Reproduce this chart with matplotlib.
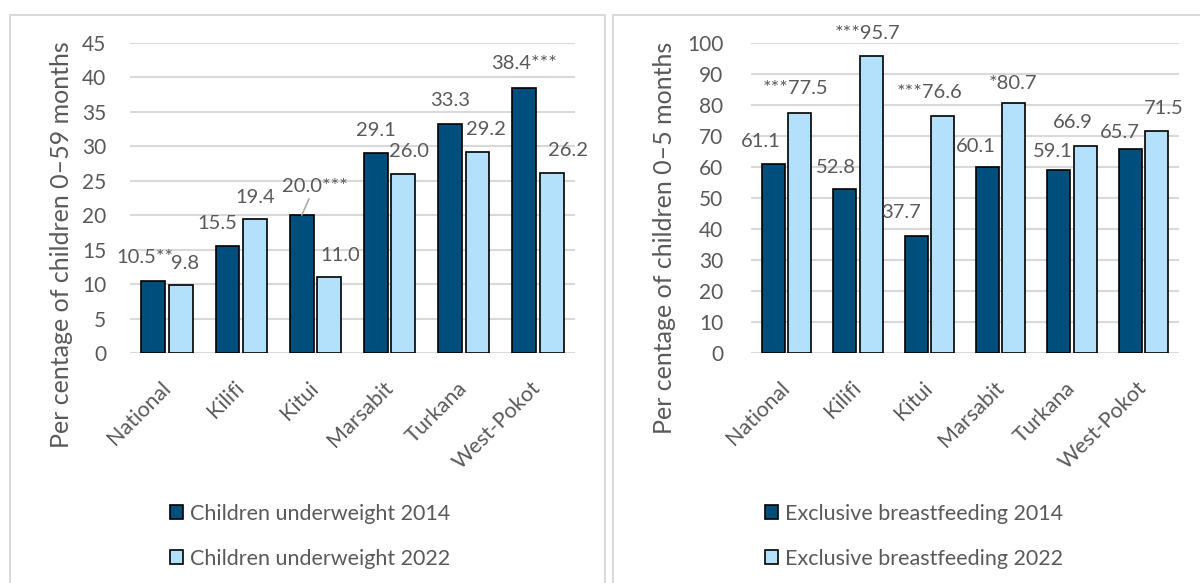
import matplotlib
matplotlib.use("Agg")
import matplotlib.pyplot as plt
from matplotlib.patches import Patch, Rectangle
import numpy as np

# ---- data -------------------------------------------------------------
regions = ["National", "Kilifi", "Kitui", "Marsabit", "Turkana", "West-Pokot"]

underweight_2014 = [10.5, 15.5, 20.0, 29.1, 33.3, 38.4]
underweight_2022 = [9.8, 19.4, 11.0, 26.0, 29.2, 26.2]
# significance stars written after the value
underweight_2014_stars = ["**", "", "***", "", "", "***"]
underweight_2022_stars = ["", "", "", "", "", ""]

breastfeeding_2014 = [61.1, 52.8, 37.7, 60.1, 59.1, 65.7]
breastfeeding_2022 = [77.5, 95.7, 76.6, 80.7, 66.9, 71.5]
# significance stars written before the value
breastfeeding_2014_stars = ["", "", "", "", "", ""]
breastfeeding_2022_stars = ["***", "***", "***", "*", "", ""]

# value-label nudges in pixels (x shift, height above bar top)
uw14_dx = [-8, -10, 13, 0, 0, 0]
uw14_dy = [23, 23, 29, 22, 23, 25]
uw22_dx = [4, 0, 11, 6, 8, 16]
uw22_dy = [22, 22, 22, 22, 22, 22]
bf14_dx = [-13, -9, -15, -12, -6, -10]
bf14_dy = [22, 22, 24, 20, 18, 17]
bf22_dx = [-4, -4, -13, -1, -12, 7]
bf22_dy = [24, 23, 23, 19, 23, 23]

DARK = "#004E7C"
LIGHT = "#B3E0FA"
TEXT = "#595959"
GRID = "#D9D9D9"

plt.rcParams["font.family"] = ["Lato", "DejaVu Sans"]

W, H = 1200, 583
fig = plt.figure(figsize=(W / 100, H / 100), dpi=100)


def px_axes(x0, x1, ytop, ybot):
    return fig.add_axes([x0 / W, (H - ybot) / H, (x1 - x0) / W, (ybot - ytop) / H])


# chart frames
for x0, x1 in [(10, 605), (613, 1215)]:
    fig.patches.append(Rectangle((x0 / W, -0.05), (x1 - x0) / W, (H - 15) / H + 0.05,
                                 transform=fig.transFigure, fill=False,
                                 edgecolor=GRID, linewidth=1.4))

VAL_FS = 14.5


def panel(ax, v14, v22, labels14, labels22, dx14, dy14, dx22, dy22, ymax, step,
          ylabel, lab14, lab22, ypad, ylab_x, ylab_y, leg_x, leader=None):
    x = np.arange(len(regions))
    bw = 0.32
    off = 0.185
    ax.bar(x - off, v14, bw, color=DARK, edgecolor="black", linewidth=1.2, zorder=3)
    ax.bar(x + off, v22, bw, color=LIGHT, edgecolor="black", linewidth=1.2, zorder=3)

    ax.set_xlim(-0.5, len(regions) - 0.5)
    ax.set_ylim(0, ymax)
    ax.set_yticks(np.arange(0, ymax + step / 2, step))
    ax.yaxis.grid(True, color=GRID, linewidth=1.5, zorder=0)
    ax.set_axisbelow(True)
    for s in ax.spines.values():
        s.set_visible(False)
    ax.tick_params(axis="both", length=0, colors=TEXT, labelsize=15)
    ax.tick_params(axis="y", pad=ypad)
    ax.tick_params(axis="x", pad=23)
    ax.set_xticks(x)
    ax.set_xticklabels(regions, rotation=45, ha="right", va="center",
                       rotation_mode="anchor", fontsize=15.5, color=TEXT)

    for i in range(len(regions)):
        kw = dict(textcoords="offset pixels", ha="center", va="center",
                  fontsize=VAL_FS, color=TEXT)
        if leader is not None and i == leader:
            kw["arrowprops"] = dict(arrowstyle="-", color="#A6A6A6", lw=1.1,
                                    shrinkA=1, shrinkB=0)
        ax.annotate(labels14[i], xy=(x[i] - off, v14[i]), xytext=(dx14[i], dy14[i]), **kw)
        ax.annotate(labels22[i], xy=(x[i] + off, v22[i]), xytext=(dx22[i], dy22[i]),
                    textcoords="offset pixels", ha="center", va="center",
                    fontsize=VAL_FS, color=TEXT)

    fig.text(ylab_x / W, 1 - ylab_y / H, ylabel, rotation=90, ha="center", va="center",
             fontsize=18, color=TEXT)

    handles = [Patch(facecolor=DARK, edgecolor="black", linewidth=1.2),
               Patch(facecolor=LIGHT, edgecolor="black", linewidth=1.2)]
    fig.legend(handles, [lab14, lab22], loc="upper left",
               bbox_to_anchor=(leg_x / W, 1 - 504 / H), frameon=False,
               fontsize=15.5, labelcolor=TEXT, handlelength=0.62, handleheight=0.62,
               handletextpad=0.3, labelspacing=1.15, borderpad=0, borderaxespad=0)


ax1 = px_axes(130, 575, 43, 353)
uw14_text = [f"{v:.1f}{s}" for v, s in zip(underweight_2014, underweight_2014_stars)]
uw22_text = [f"{v:.1f}{s}" for v, s in zip(underweight_2022, underweight_2022_stars)]
panel(ax1, underweight_2014, underweight_2022, uw14_text, uw22_text,
      uw14_dx, uw14_dy, uw22_dx, uw22_dy, 45, 5,
      "Per centage of children 0–59 months",
      "Children underweight 2014", "Children underweight 2022",
      ypad=17, ylab_x=62, ylab_y=245, leg_x=170, leader=2)

ax2 = px_axes(751, 1179, 43, 353)
bf14_text = [f"{s}{v:.1f}" for v, s in zip(breastfeeding_2014, breastfeeding_2014_stars)]
bf22_text = [f"{s}{v:.1f}" for v, s in zip(breastfeeding_2022, breastfeeding_2022_stars)]
panel(ax2, breastfeeding_2014, breastfeeding_2022, bf14_text, bf22_text,
      bf14_dx, bf14_dy, bf22_dx, bf22_dy, 100, 10,
      "Per centage of children 0–5 months",
      "Exclusive breastfeeding 2014", "Exclusive breastfeeding 2022",
      ypad=20, ylab_x=664, ylab_y=238, leg_x=765)

fig.savefig("out.png", dpi=100, facecolor="white")
